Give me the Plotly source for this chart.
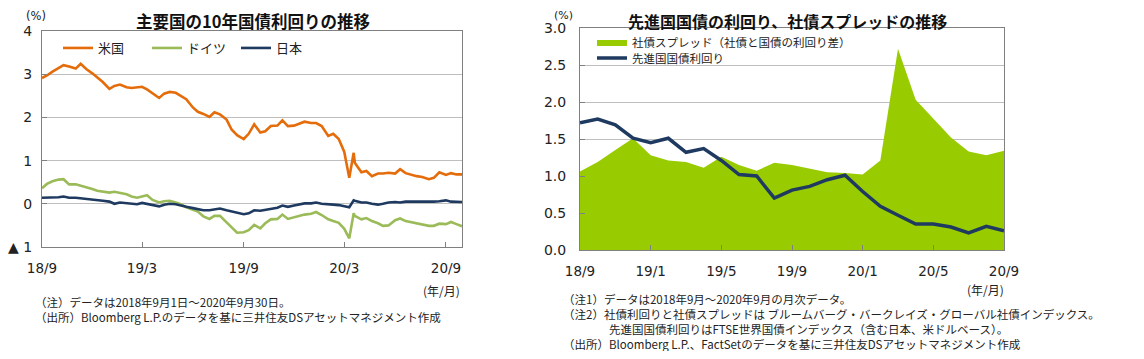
import plotly.graph_objects as go

# ---------------- Left chart data (10Y government bond yields, %) ----------------
dates = [
    "2018-09-01", "2018-09-10", "2018-09-20", "2018-10-01", "2018-10-10", "2018-10-20",
    "2018-11-01", "2018-11-10", "2018-11-20", "2018-12-01", "2018-12-10", "2018-12-20",
    "2019-01-01", "2019-01-10", "2019-01-20", "2019-02-01", "2019-02-10", "2019-02-20",
    "2019-03-01", "2019-03-10", "2019-03-20", "2019-04-01", "2019-04-10", "2019-04-20",
    "2019-05-01", "2019-05-10", "2019-05-20", "2019-06-01", "2019-06-10", "2019-06-20",
    "2019-07-01", "2019-07-10", "2019-07-20", "2019-08-01", "2019-08-10", "2019-08-20",
    "2019-09-01", "2019-09-10", "2019-09-20", "2019-10-01", "2019-10-10", "2019-10-20",
    "2019-11-01", "2019-11-10", "2019-11-20", "2019-12-01", "2019-12-10", "2019-12-20",
    "2020-01-01", "2020-01-10", "2020-01-20", "2020-02-01", "2020-02-10", "2020-02-20",
    "2020-03-01", "2020-03-10", "2020-03-18", "2020-03-20",
    "2020-04-01", "2020-04-10", "2020-04-20", "2020-05-01", "2020-05-10", "2020-05-20",
    "2020-06-01", "2020-06-10", "2020-06-20", "2020-07-01", "2020-07-10", "2020-07-20",
    "2020-08-01", "2020-08-10", "2020-08-20", "2020-09-01", "2020-09-10", "2020-09-20",
    "2020-09-30",
]
us = [
    2.91, 2.97, 3.06, 3.15, 3.21, 3.18, 3.13, 3.24, 3.12, 3.02, 2.92, 2.82,
    2.66, 2.73, 2.76, 2.70, 2.68, 2.70, 2.71, 2.65, 2.55, 2.45, 2.55, 2.59,
    2.57, 2.50, 2.42, 2.23, 2.13, 2.08, 2.01, 2.12, 2.07, 1.95, 1.72, 1.59,
    1.50, 1.62, 1.84, 1.65, 1.68, 1.80, 1.81, 1.93, 1.80, 1.81, 1.85, 1.90,
    1.87, 1.87, 1.80, 1.57, 1.62, 1.50, 1.20, 0.60, 1.18, 0.95,
    0.73, 0.76, 0.64, 0.70, 0.70, 0.72, 0.70, 0.80, 0.71, 0.67, 0.64, 0.62,
    0.57, 0.60, 0.73, 0.67, 0.71, 0.68, 0.68,
]
germany = [
    0.36, 0.46, 0.52, 0.56, 0.57, 0.45, 0.45, 0.42, 0.37, 0.34, 0.30, 0.28,
    0.26, 0.28, 0.26, 0.22, 0.17, 0.14, 0.17, 0.20, 0.09, 0.03, 0.06, 0.07,
    0.03, -0.01, -0.08, -0.13, -0.18, -0.29, -0.35, -0.28, -0.28, -0.43, -0.55, -0.67,
    -0.66, -0.61, -0.49, -0.57, -0.45, -0.36, -0.35, -0.25, -0.35, -0.31, -0.28, -0.25,
    -0.23, -0.19, -0.26, -0.36, -0.40, -0.44, -0.58, -0.80, -0.22, -0.28,
    -0.36, -0.33, -0.40, -0.45, -0.51, -0.50, -0.38, -0.34, -0.40, -0.43, -0.44, -0.47,
    -0.51, -0.51, -0.46, -0.47, -0.42, -0.47, -0.52,
]
japan = [
    0.14, 0.14, 0.14, 0.15, 0.17, 0.14, 0.14, 0.13, 0.11, 0.09, 0.08, 0.07,
    0.05, 0.00, 0.03, 0.02, 0.00, -0.01, 0.02, 0.00, -0.03, -0.06, -0.02, 0.00,
    -0.01, -0.03, -0.07, -0.10, -0.13, -0.15, -0.15, -0.13, -0.11, -0.15, -0.18, -0.20,
    -0.24, -0.22, -0.15, -0.16, -0.14, -0.11, -0.09, -0.04, -0.07, -0.04, -0.01, 0.01,
    0.01, 0.03, 0.00, -0.02, -0.02, -0.03, -0.06, -0.08, 0.08, 0.07,
    0.03, 0.03, 0.00, -0.02, 0.00, 0.03, 0.04, 0.03, 0.05, 0.05, 0.05, 0.04,
    0.05, 0.05, 0.06, 0.08, 0.05, 0.04, 0.04,
]
left_tickvals = ["2018-09-01", "2019-03-01", "2019-09-01", "2020-03-01", "2020-09-01"]
left_ticktext = ["18/9", "19/3", "19/9", "20/3", "20/9"]
left_yvals = [-1, 0, 1, 2, 3, 4]
left_ytext = ["▲ 1", "0", "1", "2", "3", "4"]

# ---------------- Right chart data (monthly, %) ----------------
months = [
    "2018/09", "2018/10", "2018/11", "2018/12", "2019/01", "2019/02", "2019/03",
    "2019/04", "2019/05", "2019/06", "2019/07", "2019/08", "2019/09", "2019/10",
    "2019/11", "2019/12", "2020/01", "2020/02", "2020/03", "2020/04", "2020/05",
    "2020/06", "2020/07", "2020/08", "2020/09",
]
spread = [1.06, 1.19, 1.35, 1.51, 1.28, 1.21, 1.19, 1.11, 1.26, 1.15, 1.07, 1.18, 1.15,
          1.10, 1.05, 1.04, 1.02, 1.21, 2.72, 2.03, 1.78, 1.52, 1.33, 1.28, 1.34]
dm_yield = [1.72, 1.77, 1.69, 1.51, 1.45, 1.51, 1.32, 1.37, 1.21, 1.02, 1.00, 0.70, 0.81,
            0.86, 0.95, 1.01, 0.79, 0.59, 0.47, 0.35, 0.35, 0.31, 0.23, 0.32, 0.26]
right_tickvals = ["2018/09", "2019/01", "2019/05", "2019/09", "2020/01", "2020/05", "2020/09"]
right_ticktext = ["18/9", "19/1", "19/5", "19/9", "20/1", "20/5", "20/9"]

ORANGE = "#E46C0A"
GREEN = "#9BBB59"
NAVY = "#1F3A60"
LIME = "#99CC00"
GRID = "#BFBFBF"
AXIS = "#808080"
TXT = "#222222"
NUM_FONT = "DejaVu Sans, Noto Sans CJK JP"
JP_FONT = "Noto Sans CJK JP, DejaVu Sans"

# The page body keeps its default 8px margin; positions below are window pixels,
# converted to figure paper coordinates.
OFF = 8
W, H = 1144 - 2 * OFF, 359 - 2 * OFF


def px_x(p):
    return (p - OFF) / W


def px_y(p):
    return 1 - (p - OFF) / H


fig = go.Figure()
fig.add_trace(go.Scatter(x=dates, y=us, name="米国", mode="lines",
                         line=dict(color=ORANGE, width=2.6), xaxis="x", yaxis="y", legend="legend"))
fig.add_trace(go.Scatter(x=dates, y=germany, name="ドイツ", mode="lines",
                         line=dict(color=GREEN, width=2.6), xaxis="x", yaxis="y", legend="legend"))
fig.add_trace(go.Scatter(x=dates, y=japan, name="日本", mode="lines",
                         line=dict(color=NAVY, width=2.6), xaxis="x", yaxis="y", legend="legend"))

fig.add_trace(go.Scatter(x=months, y=spread, name="社債スプレッド（社債と国債の利回り差）",
                         mode="lines", fill="tozeroy", fillcolor=LIME,
                         line=dict(color=LIME, width=0), xaxis="x2", yaxis="y2", legend="legend2"))
fig.add_trace(go.Scatter(x=months, y=dm_yield, name="先進国国債利回り", mode="lines",
                         line=dict(color=NAVY, width=3.5), xaxis="x2", yaxis="y2", legend="legend3"))

xaxis_common = dict(showline=True, linecolor=AXIS, linewidth=1, mirror=True, automargin=False,
                    ticks="inside", ticklen=5, tickcolor=AXIS, ticklabelstandoff=9,
                    tickfont=dict(family=NUM_FONT, size=13.5, color=TXT))
yaxis_common = dict(showline=True, linecolor=AXIS, linewidth=1, mirror=True, automargin=False,
                    ticks="inside", ticklen=5, tickcolor=AXIS,
                    tickfont=dict(family=NUM_FONT, size=14, color=TXT))

fig.update_layout(
    template="none",
    width=W, height=H,
    margin=dict(l=0, r=0, t=0, b=0, pad=0, autoexpand=False),
    paper_bgcolor="white", plot_bgcolor="white",
    showlegend=True,
    xaxis=dict(domain=[px_x(42), px_x(462)], type="date",
               range=["2018-09-01", "2020-09-30"],
               tickmode="array", tickvals=left_tickvals, ticktext=left_ticktext,
               showgrid=False, anchor="y", **xaxis_common),
    yaxis=dict(domain=[px_y(247), px_y(31)], range=[-1, 4],
               tickmode="array", tickvals=left_yvals, ticktext=left_ytext,
               showgrid=True, gridcolor=GRID, gridwidth=1, zeroline=False,
               anchor="x", ticklabelstandoff=6, **yaxis_common),
    xaxis2=dict(domain=[px_x(580), px_x(1004)], type="category",
                range=[0, len(months) - 1],
                tickmode="array", tickvals=right_tickvals, ticktext=right_ticktext,
                showgrid=False, anchor="y2", **xaxis_common),
    yaxis2=dict(domain=[px_y(250), px_y(28)], range=[0, 3],
                tickmode="array", tickvals=[0, 0.5, 1.0, 1.5, 2.0, 2.5, 3.0],
                ticktext=["0.0", "0.5", "1.0", "1.5", "2.0", "2.5", "3.0"],
                showgrid=True, gridcolor=GRID, gridwidth=1, zeroline=False,
                anchor="x2", ticklabelstandoff=10, **yaxis_common),
    legend=dict(orientation="h", x=px_x(58), y=px_y(48), xanchor="left", yanchor="middle",
                bgcolor="rgba(0,0,0,0)", borderwidth=0, entrywidth=44, entrywidthmode="pixels",
                font=dict(family=JP_FONT, size=13, color=TXT), itemwidth=30),
    legend2=dict(orientation="v", x=px_x(592), y=px_y(42), xanchor="left", yanchor="middle",
                 bgcolor="rgba(0,0,0,0)", borderwidth=0,
                 font=dict(family=JP_FONT, size=11.5, color=TXT), itemwidth=30),
    legend3=dict(orientation="v", x=px_x(592), y=px_y(58), xanchor="left", yanchor="middle",
                 bgcolor="rgba(0,0,0,0)", borderwidth=0,
                 font=dict(family=JP_FONT, size=11.5, color=TXT), itemwidth=30),
    shapes=[dict(type="rect", xref="paper", yref="paper", layer="between",
                 x0=px_x(593), x1=px_x(853), y0=px_y(72), y1=px_y(33),
                 fillcolor="white", line=dict(width=0))],
)

ann = []
# titles
ann.append(dict(text="<b>主要国の10年国債利回りの推移</b>", x=px_x(253), y=px_y(20.5),
                font=dict(family=JP_FONT, size=16.5, color="#111111")))
ann.append(dict(text="<b>先進国国債の利回り、社債スプレッドの推移</b>", x=px_x(787), y=px_y(20.5),
                font=dict(family=JP_FONT, size=16, color="#111111")))
# unit labels
ann.append(dict(text="(%)", x=px_x(36), y=px_y(16),
                font=dict(family=NUM_FONT, size=11.5, color=TXT)))
ann.append(dict(text="(%)", x=px_x(563), y=px_y(15),
                font=dict(family=NUM_FONT, size=11, color=TXT)))
ann.append(dict(text="(年/月)", x=px_x(441), y=px_y(290),
                font=dict(family=JP_FONT, size=12, color=TXT)))
ann.append(dict(text="(年/月)", x=px_x(985), y=px_y(289),
                font=dict(family=JP_FONT, size=12, color=TXT)))
for a in ann:
    a.update(xref="paper", yref="paper", showarrow=False, xanchor="center", yanchor="middle",
             borderpad=0)

left_notes = [
    "（注）データは2018年9月1日～2020年9月30日。",
    "（出所）Bloomberg L.P.のデータを基に三井住友DSアセットマネジメント作成",
]
right_notes = [
    "（注1）データは2018年9月～2020年9月の月次データ。",
    "（注2）社債利回りと社債スプレッドは ブルームバーグ・バークレイズ・グローバル社債インデックス。",
    "\u3000\u3000\u3000\u3000先進国国債利回りはFTSE世界国債インデックス（含む日本、米ドルベース）。",
    "（出所）Bloomberg L.P.、FactSetのデータを基に三井住友DSアセットマネジメント作成",
]
ann.append(dict(text="<br>".join(left_notes), x=px_x(33), y=px_y(292),
                xref="paper", yref="paper", showarrow=False, xanchor="left", yanchor="top",
                align="left", font=dict(family=JP_FONT, size=11.5, color=TXT)))
ann.append(dict(text="<br>".join(right_notes), x=px_x(561), y=px_y(289),
                xref="paper", yref="paper", showarrow=False, xanchor="left", yanchor="top",
                align="left", font=dict(family=JP_FONT, size=11.5, color=TXT)))

fig.update_layout(annotations=ann)
fig.write_html("out.html")
